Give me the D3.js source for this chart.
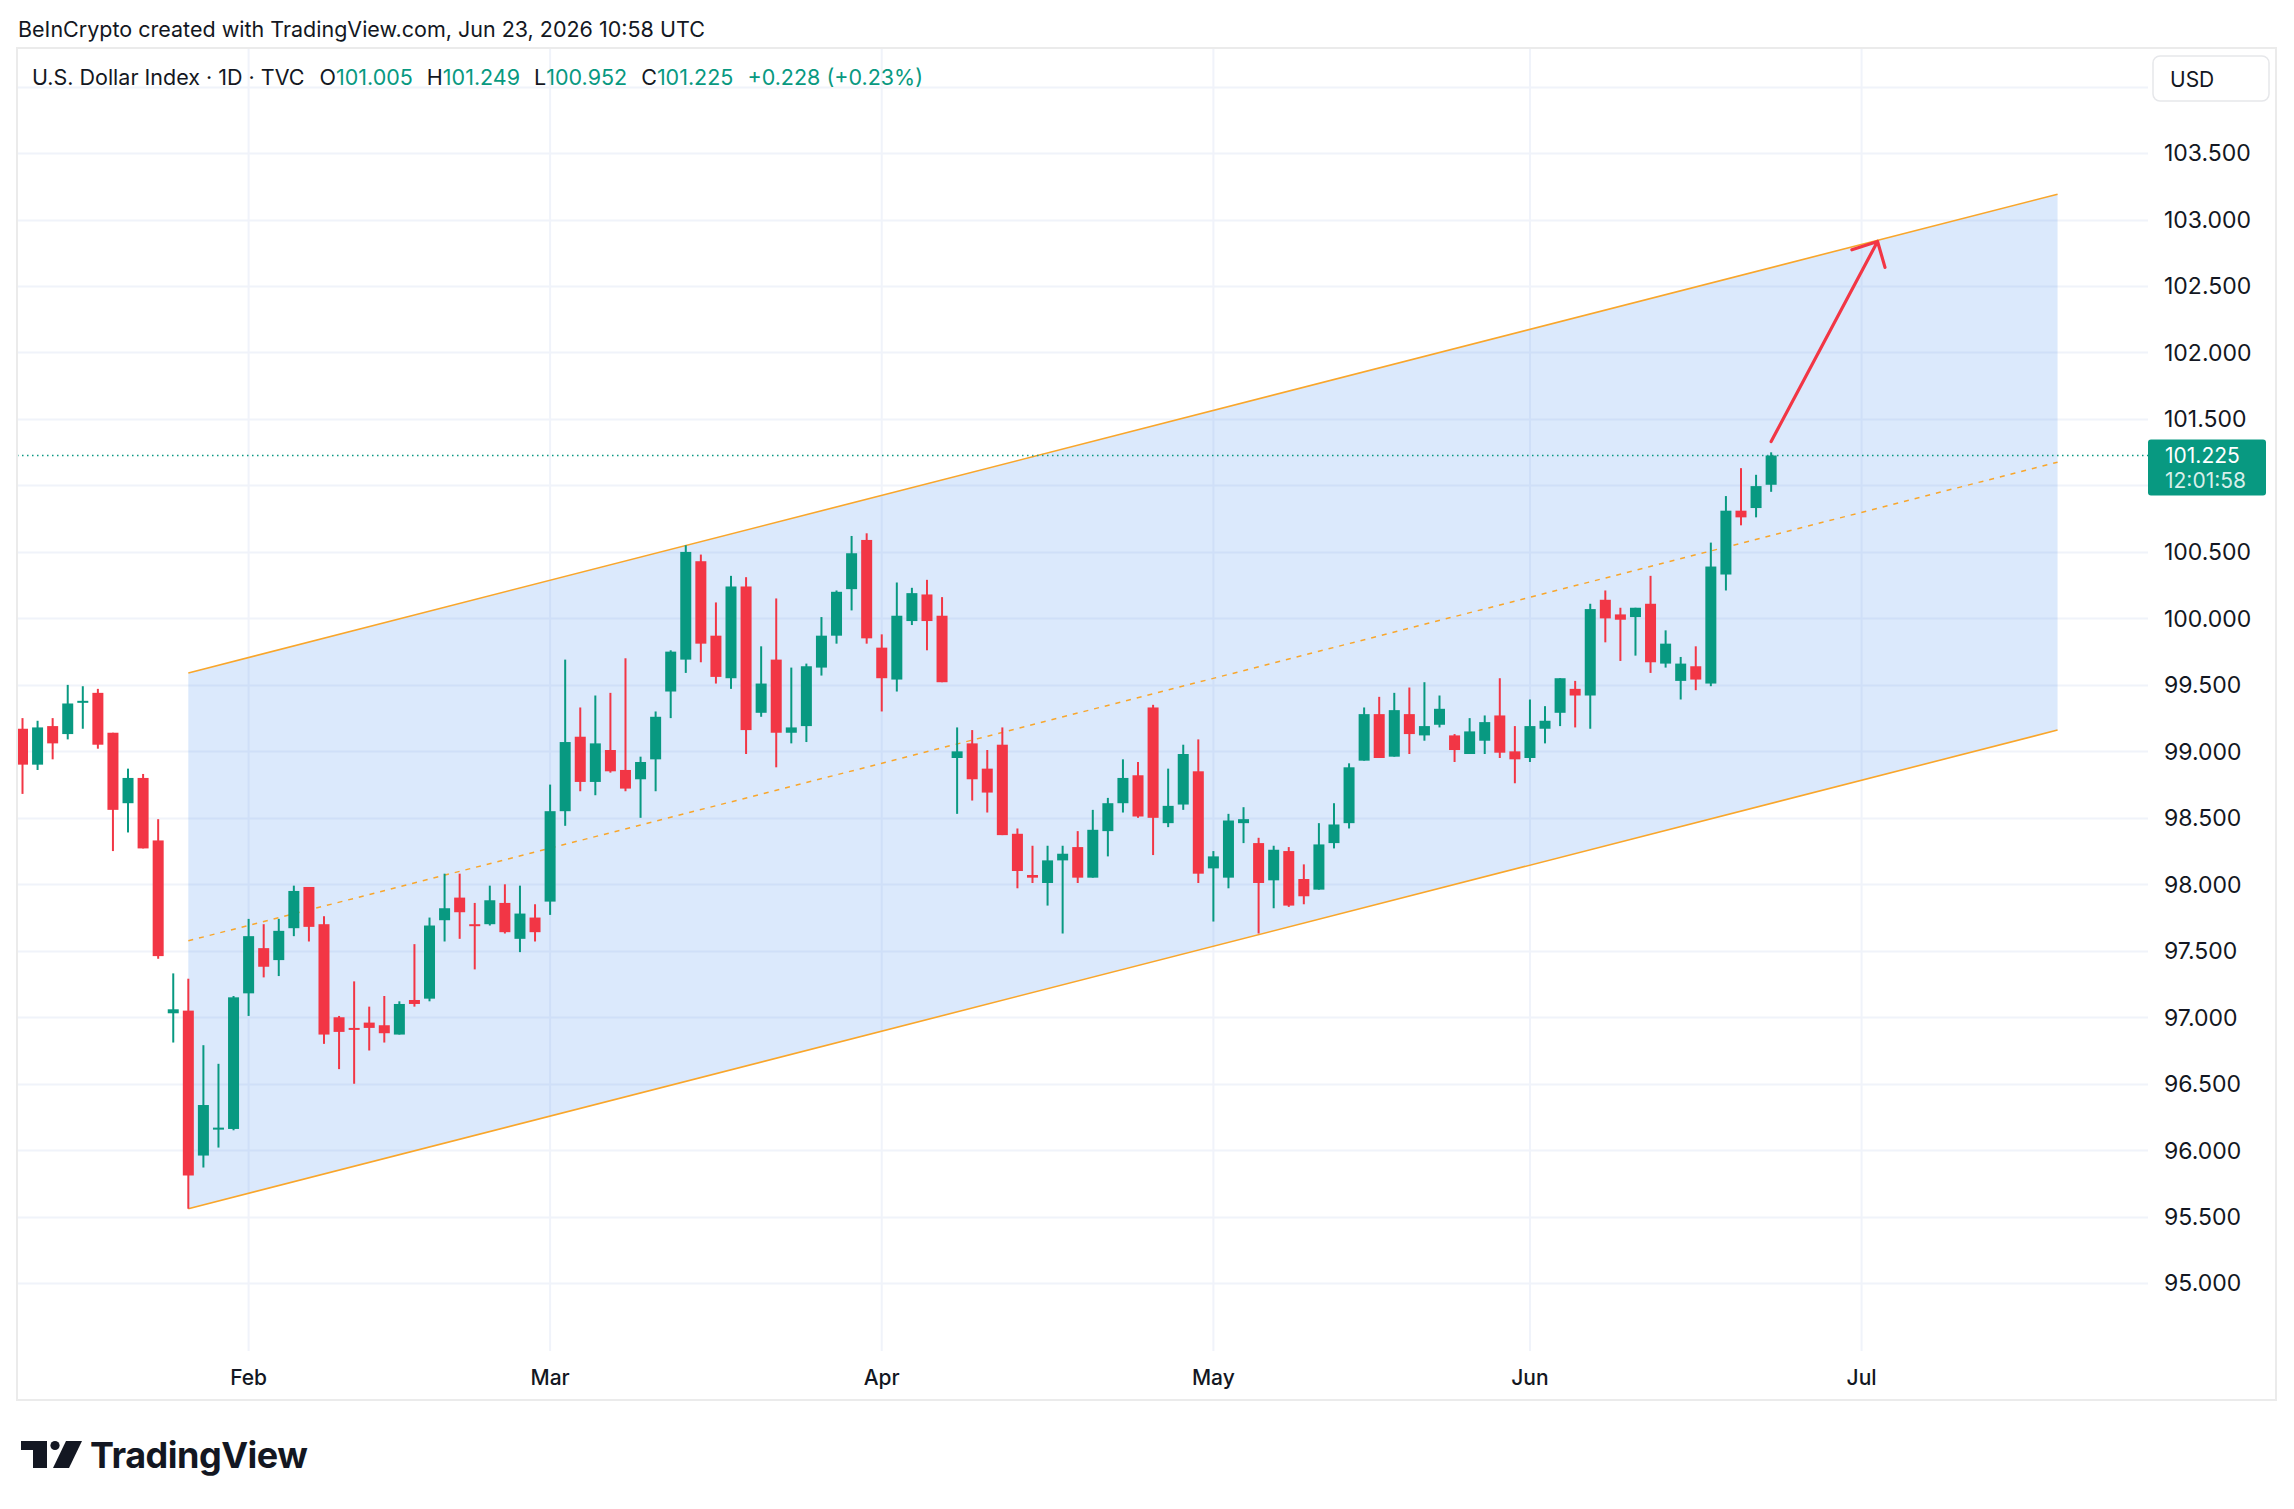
<!DOCTYPE html>
<html lang="en">
<head>
  <meta charset="UTF-8">
  <title>U.S. Dollar Index 1D</title>
  <script src="https://d3js.org/d3.v7.min.js"></script>
  <style>
    body { margin: 0; background: #fff; }
    text { font-family: Inter, "Noto Sans", sans-serif; fill: #131722; }
    .price-label { font-size: 23px; }
    .month-label { font-size: 21px; font-weight: 500; }
  </style>
</head>
<body>
<svg id="chart"></svg>

<script>
  // daily candles, Jan 12 -> Jun 23 2026 (bar index = trading day)
  var opens  = [99.17,98.90,99.19,99.13,99.37,99.44,99.14,98.61,98.80,98.33,
                97.03,97.05,95.96,96.16,96.16,97.18,97.52,97.43,97.67,97.98,
                97.70,97.00,96.92,96.96,96.94,96.87,97.13,97.14,97.73,97.90,
                97.70,97.70,97.86,97.59,97.75,97.87,98.55,99.11,98.77,99.01,
                98.86,98.79,98.94,99.45,99.69,100.43,99.87,99.55,100.24,99.29,
                99.69,99.14,99.19,99.63,99.87,100.22,100.59,99.78,99.54,99.98,
                100.18,100.02,98.95,99.06,98.87,99.05,98.38,98.07,98.01,98.18,
                98.28,98.05,98.40,98.61,98.82,99.33,98.46,98.60,98.85,98.12,
                98.05,98.46,98.31,98.03,98.25,98.04,97.96,98.31,98.46,98.93,
                99.28,98.96,99.28,99.12,99.20,99.12,98.98,99.08,99.27,99.00,
                98.95,99.17,99.29,99.47,99.42,100.14,100.03,100.01,100.11,99.66,
                99.53,99.64,99.51,100.33,100.81,100.83,101.005];
  var highs  = [99.25,99.23,99.25,99.50,99.49,99.47,99.14,98.87,98.83,98.49,
                97.33,97.29,96.79,96.65,97.16,97.74,97.70,97.74,97.99,97.98,
                97.76,97.01,97.27,97.08,97.16,97.12,97.55,97.75,98.08,98.08,
                97.86,97.99,98.00,97.99,97.85,98.75,99.69,99.33,99.42,99.44,
                99.70,98.96,99.30,99.76,100.55,100.48,100.12,100.32,100.31,99.79,
                100.15,99.63,99.66,100.01,100.21,100.62,100.64,99.88,100.27,100.23,
                100.29,100.16,99.18,99.16,99.01,99.18,98.42,98.29,98.29,98.29,
                98.40,98.56,98.65,98.94,98.92,99.35,98.87,99.05,99.09,98.25,
                98.53,98.58,98.35,98.29,98.28,98.15,98.46,98.61,98.91,99.33,
                99.41,99.44,99.48,99.52,99.42,99.13,99.25,99.27,99.55,99.19,
                99.39,99.34,99.55,99.53,100.11,100.21,100.08,100.08,100.32,99.91,
                99.71,99.79,100.57,100.92,101.13,101.08,101.249];
  var lows   = [98.68,98.86,98.94,99.09,99.17,99.02,98.25,98.39,98.27,97.44,
                96.81,95.56,95.87,96.02,96.15,97.01,97.30,97.31,97.61,97.57,
                96.80,96.61,96.50,96.75,96.81,96.87,97.08,97.12,97.57,97.59,
                97.36,97.69,97.63,97.49,97.57,97.77,98.44,98.70,98.67,98.84,
                98.70,98.50,98.70,99.25,99.59,99.67,99.51,99.47,98.98,99.26,
                98.88,99.06,99.07,99.57,99.81,100.06,99.81,99.30,99.45,99.95,
                99.76,99.52,98.53,98.63,98.54,98.37,97.97,98.01,97.84,97.63,
                98.01,98.05,98.21,98.54,98.50,98.22,98.43,98.56,98.01,97.72,
                97.97,98.31,97.63,97.82,97.83,97.85,97.96,98.27,98.42,98.93,
                98.95,98.96,98.98,99.08,99.18,98.92,98.98,98.98,98.95,98.76,
                98.92,99.06,99.19,99.18,99.17,99.82,99.68,99.72,99.59,99.63,
                99.39,99.46,99.49,100.21,100.70,100.76,100.952];
  var closes = [98.90,99.18,99.06,99.36,99.38,99.05,98.56,98.80,98.27,97.46,
                97.06,95.81,96.34,96.17,97.15,97.61,97.38,97.65,97.95,97.68,
                96.87,96.89,96.91,96.92,96.88,97.10,97.10,97.69,97.82,97.79,
                97.69,97.88,97.64,97.78,97.64,98.55,99.07,98.77,99.06,98.85,
                98.72,98.92,99.26,99.75,100.50,99.81,99.56,100.24,99.16,99.51,
                99.14,99.18,99.64,99.87,100.20,100.49,99.85,99.55,100.02,100.19,
                99.98,99.52,99.00,98.79,98.69,98.37,98.10,98.05,98.18,98.23,
                98.05,98.41,98.61,98.80,98.51,98.50,98.59,98.98,98.08,98.21,
                98.48,98.49,98.01,98.26,97.84,97.91,98.30,98.45,98.88,99.28,
                98.95,99.31,99.13,99.19,99.32,99.01,99.15,99.22,98.99,98.94,
                99.19,99.23,99.55,99.42,100.07,100.00,99.99,100.08,99.67,99.81,
                99.66,99.54,100.39,100.81,100.76,100.995,101.225];

  // time axis: bar index of the first trading day of each month
  var monthLabels = ["Feb", "Mar", "Apr", "May", "Jun", "Jul"];
  var monthBars = [15, 35, 57, 79, 100, 122];

  // price axis labels (101.000 sits under the last-price tag, so it is not shown)
  var priceTicks = [95.0, 95.5, 96.0, 96.5, 97.0, 97.5, 98.0, 98.5, 99.0,
                    99.5, 100.0, 100.5, 101.5, 102.0, 102.5, 103.0, 103.5];
  var gridTicks = priceTicks.concat([101.0, 104.0]);

  // parallel channel drawing (bar index, price)
  var channelBars = [11, 135];
  var channelTop = [99.59, 103.19];
  var channelBottom = [95.56, 99.16];

  // arrow drawing (bar index, price)
  var arrowBars = [116, 123.06];
  var arrowPrices = [101.33, 102.835];

  var lastPrice = 101.225;

  var svgWidth = 2294, svgHeight = 1509;
  var plot = { left: 17, top: 48, right: 2148, bottom: 1351 };
  var panelRight = 2276, panelBottom = 1400;

  var green = "#089981", red = "#f23645", orange = "#f9a62b";

  var svg = d3.select("#chart")
      .attr("width", svgWidth)
      .attr("height", svgHeight)
      .style("display", "block");

  svg.append("rect").attr("width", svgWidth).attr("height", svgHeight).attr("fill", "#fff");

  var x = d3.scaleLinear().domain([-0.365, 141.0]).range([plot.left, plot.right]);
  var y = d3.scaleLinear().domain([94.49, 104.29]).range([plot.bottom, plot.top]);

  svg.append("clipPath").attr("id", "plot-clip")
    .append("rect")
      .attr("x", plot.left).attr("y", plot.top)
      .attr("width", plot.right - plot.left).attr("height", plot.bottom - plot.top);

  var g = svg.append("g").attr("clip-path", "url(#plot-clip)");

  // grid
  g.selectAll(".hgrid").data(gridTicks).enter().append("line")
      .attr("x1", plot.left).attr("x2", plot.right)
      .attr("y1", function(d) { return Math.round(y(d)) + 0.5; })
      .attr("y2", function(d) { return Math.round(y(d)) + 0.5; })
      .attr("stroke", "#f0f3fa").attr("stroke-width", 2);

  g.selectAll(".vgrid").data(monthBars).enter().append("line")
      .attr("x1", function(d) { return x(d); })
      .attr("x2", function(d) { return x(d); })
      .attr("y1", plot.top).attr("y2", plot.bottom)
      .attr("stroke", "#f0f3fa").attr("stroke-width", 2);

  // channel fill + lines
  var chPts = [
    [x(channelBars[0]), y(channelTop[0])],
    [x(channelBars[1]), y(channelTop[1])],
    [x(channelBars[1]), y(channelBottom[1])],
    [x(channelBars[0]), y(channelBottom[0])]
  ];
  g.append("polygon")
      .attr("points", chPts.map(function(p) { return p.join(","); }).join(" "))
      .attr("fill", "rgba(100,160,240,0.23)");

  var line = d3.line()
      .x(function(d) { return x(d[0]); })
      .y(function(d) { return y(d[1]); });

  g.append("path")
      .attr("d", line([[channelBars[0], channelTop[0]], [channelBars[1], channelTop[1]]]))
      .attr("stroke", orange).attr("stroke-width", 1.6).attr("fill", "none");
  g.append("path")
      .attr("d", line([[channelBars[0], channelBottom[0]], [channelBars[1], channelBottom[1]]]))
      .attr("stroke", orange).attr("stroke-width", 1.6).attr("fill", "none");
  g.append("path")
      .attr("d", line([[channelBars[0], (channelTop[0] + channelBottom[0]) / 2],
                       [channelBars[1], (channelTop[1] + channelBottom[1]) / 2]]))
      .attr("stroke", orange).attr("stroke-width", 1.5)
      .attr("stroke-dasharray", "5,6").attr("fill", "none");

  // candles
  var idx = d3.range(opens.length);
  var bodyW = 11;

  g.selectAll(".wick").data(idx).enter().append("line")
      .attr("x1", function(i) { return x(i); })
      .attr("x2", function(i) { return x(i); })
      .attr("y1", function(i) { return y(highs[i]); })
      .attr("y2", function(i) { return y(lows[i]); })
      .attr("stroke", function(i) { return closes[i] >= opens[i] ? green : red; })
      .attr("stroke-width", 2);

  g.selectAll(".body").data(idx).enter().append("rect")
      .attr("x", function(i) { return x(i) - bodyW / 2; })
      .attr("width", bodyW)
      .attr("y", function(i) { return y(Math.max(opens[i], closes[i])); })
      .attr("height", function(i) {
        return Math.max(2, Math.abs(y(opens[i]) - y(closes[i])));
      })
      .attr("fill", function(i) { return closes[i] >= opens[i] ? green : red; });

  // last price dotted line
  g.append("line")
      .attr("x1", plot.left).attr("x2", plot.right)
      .attr("y1", y(lastPrice)).attr("y2", y(lastPrice))
      .attr("stroke", green).attr("stroke-width", 1.5)
      .attr("stroke-dasharray", "1.5,3.5");

  // arrow
  var ax0 = x(arrowBars[0]), ay0 = y(arrowPrices[0]);
  var ax1 = x(arrowBars[1]), ay1 = y(arrowPrices[1]);
  var back = Math.atan2(ay0 - ay1, ax0 - ax1);
  var headLen = 27, headAng = 44 * Math.PI / 180;
  g.append("path")
      .attr("d", "M" + ax0 + "," + ay0 + "L" + ax1 + "," + ay1 +
        "M" + (ax1 + headLen * Math.cos(back + headAng)) + "," + (ay1 + headLen * Math.sin(back + headAng)) +
        "L" + ax1 + "," + ay1 +
        "L" + (ax1 + headLen * Math.cos(back - headAng)) + "," + (ay1 + headLen * Math.sin(back - headAng)))
      .attr("stroke", red).attr("stroke-width", 3.2)
      .attr("fill", "none").attr("stroke-linecap", "round").attr("stroke-linejoin", "round");

  // panel border
  svg.append("rect")
      .attr("x", plot.left).attr("y", plot.top)
      .attr("width", panelRight - plot.left).attr("height", panelBottom - plot.top)
      .attr("fill", "none").attr("stroke", "#ebebeb").attr("stroke-width", 2);

  // price axis labels
  svg.selectAll(".price-label").data(priceTicks).enter().append("text")
      .attr("class", "price-label")
      .attr("x", 2164)
      .attr("y", function(d) { return y(d); })
      .attr("dy", "0.36em")
      .text(function(d) { return d3.format(".3f")(d); });

  // USD button
  svg.append("rect")
      .attr("x", 2153).attr("y", 56).attr("width", 116).attr("height", 45)
      .attr("rx", 7).attr("fill", "#fff").attr("stroke", "#e6e7ea").attr("stroke-width", 1.5);
  svg.append("text")
      .attr("x", 2170).attr("y", 79).attr("dy", "0.36em")
      .style("font-size", "21px").text("USD");

  // last price tag
  svg.append("rect")
      .attr("x", 2148).attr("y", y(lastPrice) - 16).attr("width", 118).attr("height", 56)
      .attr("rx", 3).attr("fill", green);
  svg.append("text")
      .attr("x", 2165).attr("y", y(lastPrice)).attr("dy", "0.36em")
      .style("font-size", "21px").style("fill", "#fff")
      .text(d3.format(".3f")(lastPrice));
  svg.append("text")
      .attr("x", 2165).attr("y", y(lastPrice) + 25).attr("dy", "0.36em")
      .style("font-size", "21px").style("fill", "rgba(255,255,255,0.85)")
      .text("12:01:58");

  // time axis labels
  svg.selectAll(".month-label").data(monthBars).enter().append("text")
      .attr("class", "month-label")
      .attr("x", function(d) { return x(d); })
      .attr("y", 1377).attr("dy", "0.36em")
      .attr("text-anchor", "middle")
      .text(function(d, i) { return monthLabels[i]; });

  // header lines
  svg.append("text")
      .attr("x", 18).attr("y", 29).attr("dy", "0.36em")
      .style("font-size", "21.5px")
      .text("BeInCrypto created with TradingView.com, Jun 23, 2026 10:58 UTC");

  var legendParts = [
    { t: "U.S. Dollar Index \u00b7 1D \u00b7 TVC", c: "#131722", gap: 15 },
    { t: "O", c: "#131722", gap: 0 }, { t: "101.005", c: green, gap: 14 },
    { t: "H", c: "#131722", gap: 0 }, { t: "101.249", c: green, gap: 14 },
    { t: "L", c: "#131722", gap: 0 }, { t: "100.952", c: green, gap: 14 },
    { t: "C", c: "#131722", gap: 0 }, { t: "101.225", c: green, gap: 14 },
    { t: "+0.228 (+0.23%)", c: green, gap: 0 }
  ];
  var lx = 32;
  legendParts.forEach(function(p) {
    var t = svg.append("text")
        .attr("x", lx).attr("y", 77).attr("dy", "0.36em")
        .style("font-size", "21.5px").style("fill", p.c)
        .text(p.t);
    lx += t.node().getComputedTextLength() + p.gap;
  });

  // TradingView logo
  var logo = svg.append("g").attr("fill", "#131722");
  logo.append("rect").attr("x", 21).attr("y", 1441).attr("width", 26).attr("height", 9);
  logo.append("rect").attr("x", 33).attr("y", 1441).attr("width", 14).attr("height", 27);
  logo.append("circle").attr("cx", 55).attr("cy", 1445.5).attr("r", 4.6);
  logo.append("polygon").attr("points", "66,1441 82,1441 69,1468 53,1468");
  svg.append("text")
      .attr("x", 90).attr("y", 1468)
      .style("font-size", "36px").style("font-weight", "700").style("letter-spacing", "-0.5px")
      .text("TradingView");
</script>
</body>
</html>
